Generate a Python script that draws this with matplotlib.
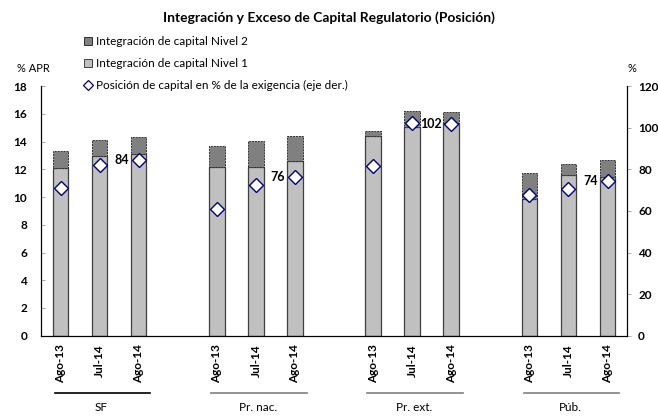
import numpy as np
import matplotlib.pyplot as plt
from matplotlib.lines import Line2D

plt.rcParams['font.family'] = ['Lato', 'DejaVu Sans']

grupos = ['SF', 'Pr. nac.', 'Pr. ext.', 'Púb.']
fechas = ['Ago-13', 'Jul-14', 'Ago-14']
# % APR (eje izq.)
nivel1 = [12.08, 12.94, 13.09,
          12.18, 12.18, 12.59,
          14.43, 15.07, 15.31,
          9.86, 11.56, 11.46]
total = [13.35, 14.09, 14.33,
         13.66, 14.07, 14.38,
         14.76, 16.19, 16.14,
         11.70, 12.37, 12.68]
nivel2 = [t - n for t, n in zip(total, nivel1)]
# posicion de capital en % de la exigencia (eje der.)
posicion = [70.9, 81.9, 84.4,
            60.7, 72.3, 76.1,
            81.5, 102.2, 101.9,
            67.7, 70.7, 74.5]
etiquetas = {2: '84', 5: '76', 8: '102', 11: '74'}

x = []
for g in range(len(grupos)):
    for j in range(len(fechas)):
        x.append(g * 4 + j)
x = np.array(x)

fig = plt.figure(figsize=(6.58, 4.16), dpi=100)
ax = fig.add_axes([0.0623, 0.193, 0.8907, 0.60])
ax2 = ax.twinx()

w = 0.4
ax.bar(x, nivel1, w, color='#c0c0c0', edgecolor='#404040', linewidth=0.9, zorder=2)
ax.bar(x, nivel2, w, bottom=nivel1, color='#808080', edgecolor='#303030',
       linewidth=0.7, linestyle=(0, (2, 1)), zorder=2)

ax2.plot(x, posicion, linestyle='none', marker='D', markersize=7.5,
         markerfacecolor='white', markeredgecolor='#000080', markeredgewidth=1.0, zorder=5)
for i, t in etiquetas.items():
    ax2.text(x[i] - 0.25, posicion[i], t, ha='right', va='center',
             fontsize=9, fontweight='bold')

ax.set_xlim(-0.5, 14.5)
ax.set_ylim(0, 18)
ax2.set_ylim(0, 120)
ax.set_yticks(np.arange(0, 19, 2))
ax2.set_yticks(np.arange(0, 121, 20))
ax.set_xticks(x)
ax.set_xticklabels(fechas * len(grupos), rotation=90, fontsize=8.5, fontweight='bold')
for a in (ax, ax2):
    a.spines['top'].set_visible(False)
    a.tick_params(axis='y', labelsize=8.5, length=3, width=0.6, color='#999999', direction='in')
    for lab in a.get_yticklabels():
        lab.set_fontweight('bold')
ax.tick_params(axis='y', pad=10)
ax.tick_params(axis='x', length=0, pad=6)
ax2.tick_params(axis='y', direction='out', pad=5)

# lineas y nombres de grupo
for g, nombre in enumerate(grupos):
    x0 = g * 4
    col = 'black' if g == 0 else '#808080'
    ax.plot([x0 - 0.15, x0 + 2.3], [-4.1, -4.1], color=col, linewidth=1.2, clip_on=False)
    ax.text(x0 + 1.05, -5.2, nombre, ha='center', va='center', fontsize=8.5)

fig.text(0.5, 0.957, 'Integración y Exceso de Capital Regulatorio (Posición)',
         ha='center', va='center', fontsize=10, fontweight='bold')
fig.text(17 / 658, 1 - 68 / 416, '% APR', ha='left', va='center', fontsize=8)
fig.text(628 / 658, 1 - 68 / 416, '%', ha='left', va='center', fontsize=8)

handles = [
    Line2D([], [], linestyle='none', marker='s', markersize=6, markerfacecolor='#808080',
           markeredgecolor='#303030', markeredgewidth=0.7),
    Line2D([], [], linestyle='none', marker='s', markersize=6, markerfacecolor='#c0c0c0',
           markeredgecolor='#404040', markeredgewidth=0.7),
    Line2D([], [], linestyle='none', marker='D', markersize=5, markerfacecolor='white',
           markeredgecolor='#000080', markeredgewidth=0.9),
]
labels = ['Integración de capital Nivel 2', 'Integración de capital Nivel 1',
          'Posición de capital en % de la exigencia (eje der.)']
fig.legend(handles, labels, loc='upper left', bbox_to_anchor=(83 / 658, 1 - 36 / 416),
           frameon=False, fontsize=8.5, handlelength=0.8, handletextpad=0.3,
           labelspacing=0.95, borderaxespad=0, borderpad=0)

fig.savefig('out.png', dpi=100)
